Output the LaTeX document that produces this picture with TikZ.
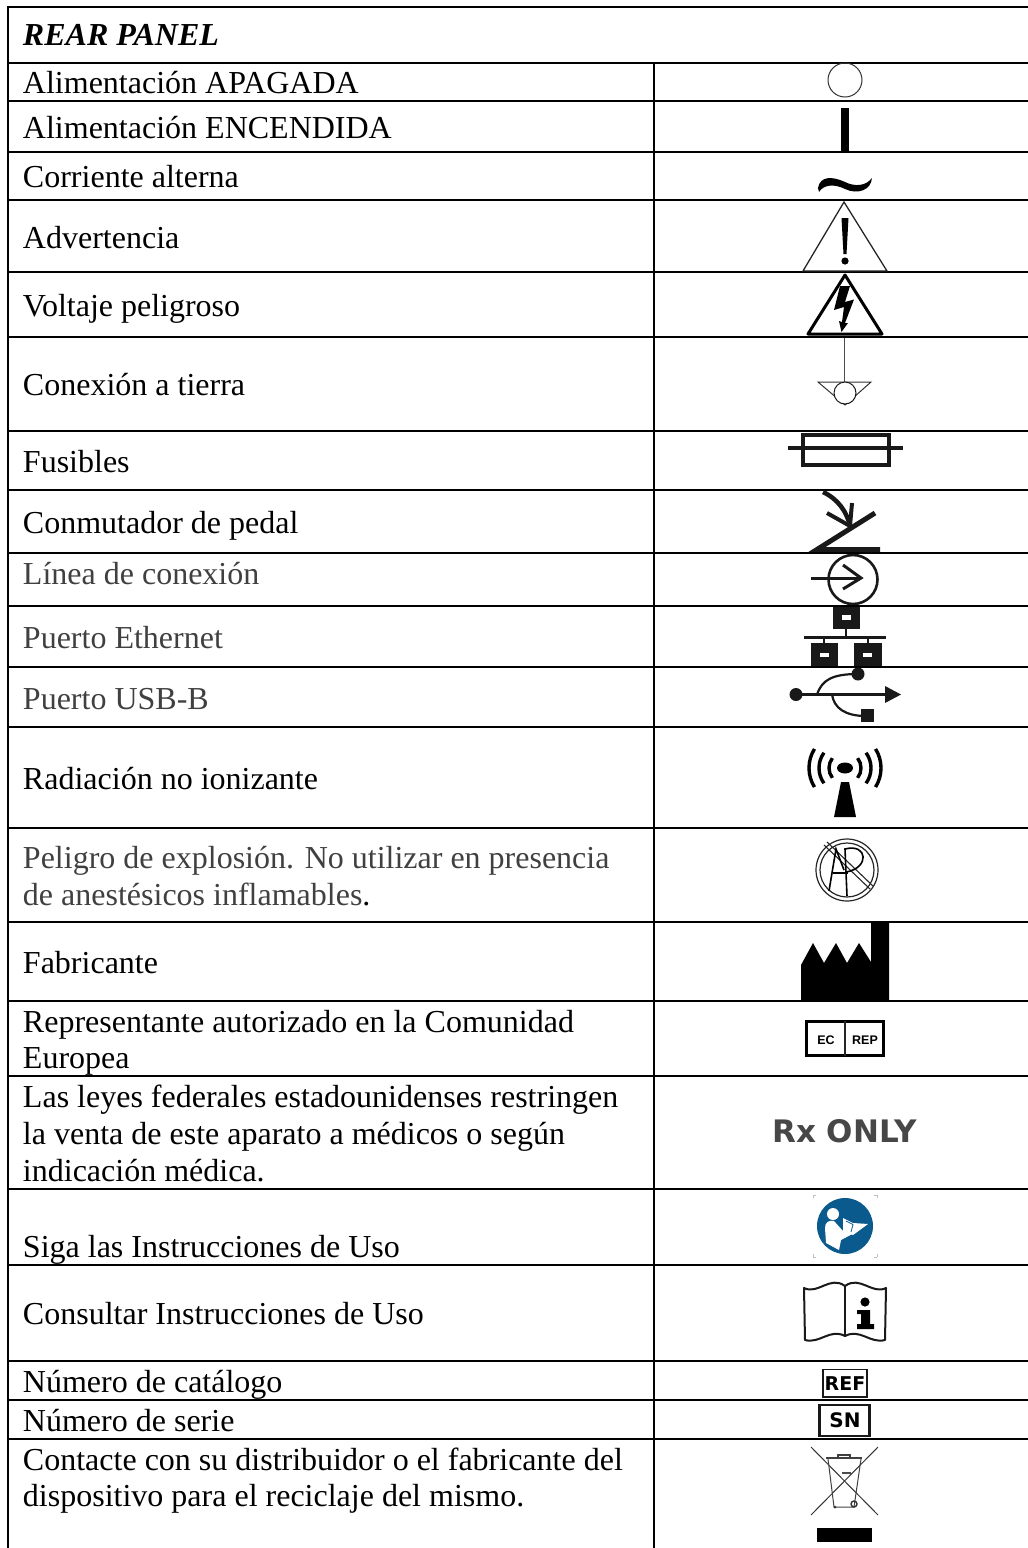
\documentclass[tikz,border=0pt]{standalone}
\usepackage{fontspec}
\setmainfont{Liberation Serif}
\newfontfamily\iconfont{DejaVu Sans}
\newfontfamily\labelfont{Liberation Sans}
\definecolor{graytext}{HTML}{404040}
\definecolor{signblue}{HTML}{0B5A8E}
\tikzset{
  rowline/.style={line width=1.8pt,black},
  cellt/.style={anchor=base west,inner sep=0pt,outer sep=0pt,font=\fontsize{32}{37}\selectfont},
  grayt/.style={cellt,text=graytext},
  thinl/.style={line width=1.3pt,black},
  solid/.style={fill=black,draw=none},
}
\begin{document}
\begin{tikzpicture}[x=1pt,y=-1pt,line join=miter]
\useasboundingbox (0,0) rectangle (1028,1548);
% table
\draw[rowline] (8,1548) -- (8,7) -- (1028,7);
\draw[rowline] (654,63) -- (654,1548);
\foreach \yy in {63,101,152,200,272,337,431,490,553,606,667,727,828,922,1001,1076,1189,1265,1361,1400,1439}
  \draw[rowline] (8,\yy) -- (1028,\yy);
% labels
\node[cellt] (t0) at (23,45) {\itshape\bfseries REAR PANEL};
\node[cellt] (t1) at (23,93) {Alimentación APAGADA};
\node[cellt] (t2) at (23,138) {Alimentación ENCENDIDA};
\node[cellt] (t3) at (23,187) {Corriente alterna};
\node[cellt] (t4) at (23,248) {Advertencia};
\node[cellt] (t5) at (23,316) {Voltaje peligroso};
\node[cellt] (t6) at (23,395) {Conexión a tierra};
\node[cellt] (t7) at (23,472) {Fusibles};
\node[cellt] (t8) at (23,533) {Conmutador de pedal};
\node[grayt] (t9) at (23,584) {Línea de conexión};
\node[grayt] (t10) at (23,648) {Puerto Ethernet};
\node[grayt] (t11) at (23,709) {Puerto USB-B};
\node[cellt] (t12) at (23,789) {Radiación no ionizante};
\node[grayt] (t13) at (23,868) {Peligro de explosión. No utilizar en presencia};
\node[grayt] (t14) at (23,905) {de anestésicos inflamables\textcolor{black}{.}};
\node[cellt] (t15) at (23,973) {Fabricante};
\node[cellt] (t16) at (23,1032) {Representante autorizado en la Comunidad};
\node[cellt] (t17) at (23,1068) {Europea};
\node[cellt] (t18) at (23,1107) {Las leyes federales estadounidenses restringen};
\node[cellt] (t19) at (23,1144) {la venta de este aparato a médicos o según};
\node[cellt] (t20) at (23,1181) {indicación médica.};
\node[cellt] (t21) at (23,1257) {Siga las Instrucciones de Uso};
\node[cellt] (t22) at (23,1324) {Consultar Instrucciones de Uso};
\node[cellt] (t23) at (23,1392) {Número de catálogo};
\node[cellt] (t24) at (23,1431) {Número de serie};
\node[cellt] (t25) at (23,1470) {Contacte con su distribuidor o el fabricante del};
\node[cellt] (t26) at (23,1506) {dispositivo para el reciclaje del mismo.};
% off
\draw[line width=1pt,black!80] (845,80) circle (17);
% on
\fill (841,108) rectangle (849,152);
% tilde
\fill (818,188) .. controls (820,176) and (832,176) .. (845,182) .. controls (855,187) and (866,186) .. (872,178)
  .. controls (871,190) and (858,195) .. (845,189) .. controls (835,184) and (824,184) .. (819,192) -- cycle;
% warning
\draw[thinl,black!85] (844,202) -- (887,271) -- (803,271) -- cycle;
\fill (841.5,218) -- (848.5,218) -- (846.5,254) -- (843.5,254) -- cycle;
\fill (845,261) circle (3.6);
% voltage
\draw[line width=3pt,line join=round] (845,275) -- (882,334) -- (808,334) -- cycle;
\fill (840,286) -- (850,286) -- (845,302) -- (854,299.5) -- (845,323) -- (848,323) -- (841.5,332) -- (839,321) -- (842,322) -- (844,307) -- (834,310) -- cycle;
% ground
\draw[line width=1pt,black!70] (844.5,338) -- (844.5,382);
\draw[line width=1pt,black!80] (818,382) -- (871,382) -- (845,405) -- cycle;
\draw[line width=1pt,black!90,fill=white] (845,393) circle (11);
% fuse
\draw[line width=4pt,black!90] (803,434.5) rectangle (889,465);
\draw[line width=4pt,black!90] (788,447.5) -- (903,447.5);
% pedal
\draw[line width=4.5pt,black!90] (823,492) .. controls (838,499) and (847,512) .. (850,526);
\draw[line width=4pt,black!90] (827,513) -- (850,526) -- (852,503);
\draw[line width=5pt,black!90] (875,513) -- (817,549.5) -- (880,549.5);
% connection
\draw[line width=2.6pt,black!90] (853,579.5) circle (24.5);
\draw[line width=3pt,black!90] (811,578) -- (861,578);
\draw[line width=3pt,black!90] (843,565) -- (861,578) -- (843,589);
% ethernet
\fill[black!90] (833,607) rectangle (860,629);
\fill[white] (842,615) rectangle (851,620);
\fill[black!90] (811,643) rectangle (838,666);
\fill[white] (820,653) rectangle (829,657);
\fill[black!90] (854,643) rectangle (882,666);
\fill[white] (863,653) rectangle (872,657);
\draw[line width=3pt,black!90] (804,637) -- (886,637);
\draw[line width=2pt,black!90] (846,629) -- (846,637);
\draw[line width=2pt,black!90] (824,637) -- (824,643);
\draw[line width=2pt,black!90] (868,637) -- (868,643);
% usb
\fill[black!90] (796,694.5) circle (6.5);
\draw[line width=2.4pt,black!90] (796,694.5) -- (888,694.5);
\fill[black!90] (885,686) -- (901,694.5) -- (885,703) -- cycle;
\draw[line width=2.2pt,black!90] (817,694.5) .. controls (822,680) and (832,674) .. (858,674);
\fill[black!90] (858,674) circle (6.5);
\draw[line width=2.2pt,black!90] (832,694.5) .. controls (834,708) and (845,716) .. (866,716);
\fill[black!90] (861,709) rectangle (873.5,722);
% radiation
\fill (845,768) ellipse (8 and 5.5);
\fill (841,782) -- (849,782) -- (856,817) -- (834,817) -- cycle;
\foreach \rr/\aa in {16/38,26/36,36/32}{
  \draw[line width=3.4pt] (845,768) ++(-\aa:\rr) arc[start angle=-\aa,end angle=\aa,radius=\rr];
  \draw[line width=3.4pt] (845,768) ++(180-\aa:\rr) arc[start angle=180-\aa,end angle=180+\aa,radius=\rr];
}
% AP
\draw[line width=1.2pt,black!85] (847,870) circle (31);
\draw[line width=1.2pt,black!85] (847,870) circle (27);
\draw[line width=1.1pt,black!85] (824,845) -- (870,889);
\draw[line width=1.1pt,black!85] (827,842) -- (873,886);
\draw[line width=1.6pt] (829,891) -- (836,849) -- (844,870);
\draw[line width=1.6pt] (833,873) -- (848,873);
\draw[line width=1.6pt] (847,896) -- (845,849) .. controls (868,843) and (870,868) .. (846,872);
% factory
\fill (801,1000) -- (801,965) -- (813,943) -- (824,963) -- (836,943) -- (847,963) -- (859,943) -- (871,962) -- (871,922) -- (889,922) -- (889,1000) -- cycle;
% EC REP
\draw[line width=3pt] (806.5,1021.5) rectangle (883.5,1055.5);
\draw[line width=2pt,black!85] (845,1021) -- (845,1056);
\node[inner sep=0pt,font=\labelfont\bfseries\fontsize{12.5}{14}\selectfont] (ec) at (826,1040) {EC};
\node[inner sep=0pt,font=\labelfont\bfseries\fontsize{12.5}{14}\selectfont] (rep) at (865,1040) {REP};
% Rx only
\node[inner sep=0pt,text=black!72,font=\iconfont\bfseries\fontsize{31}{34}\selectfont] (rx) at (844.5,1131.5) {Rx ONLY};
% follow IFU
\fill[signblue] (845,1226) circle (28);
\foreach \px/\py/\dx/\dy in {813/1195/3/0,813/1195/0/3,877/1195/-3/0,877/1195/0/3,813/1257/3/0,813/1257/0/-3,877/1257/-3/0,877/1257/0/-3}
  \draw[black!25,line width=.6pt] (\px,\py) -- ++(\dx,\dy);
\fill[white] (833,1214) circle (6);
\fill[white] (825,1228) .. controls (825,1222) and (829,1220) .. (834,1221) -- (843,1231) -- (855,1226) -- (858,1231) -- (841,1240) -- (839,1250) -- (826,1243) -- cycle;
\fill[white] (843,1218) -- (853,1223) -- (868,1224) -- (853,1235) -- (843,1231) -- cycle;
\draw[signblue,line width=.8pt] (846,1221) -- (853,1224.5) -- (851,1232);
% IFU book
\draw[line width=2pt,black!90,line join=round] (804,1288) .. controls (818,1295) and (830,1275) .. (845,1286) .. controls (860,1275) and (872,1295) .. (886,1288)
  -- (885,1340) .. controls (870,1344) and (860,1328) .. (845,1336) .. controls (830,1328) and (820,1344) .. (805,1340) -- cycle;
\draw[line width=2pt,black!90] (845,1286) -- (845,1336);
\fill (865,1302) circle (4.6);
\fill (857,1310) -- (870,1310) -- (870,1324) -- (874,1324) -- (874,1329) -- (857,1329) -- (857,1324) -- (861,1324) -- (861,1314) -- (857,1314) -- cycle;
% REF
\draw[line width=1.6pt,black!90] (823,1369.5) rectangle (867,1397);
\node[inner sep=0pt,font=\iconfont\bfseries\fontsize{19}{21}\selectfont] (refl) at (845,1383.5) {REF};
% SN
\draw[line width=2.2pt,black!90] (819.5,1405) rectangle (869.5,1436);
\node[inner sep=0pt,font=\iconfont\bfseries\fontsize{20}{22}\selectfont] (snl) at (845,1420.5) {SN};
% WEEE
\draw[line width=1pt,black!80] (811,1447) -- (878,1515);
\draw[line width=1pt,black!80] (878,1447) -- (811,1515);
\draw[line width=1pt,black!75] (828,1459) -- (834,1507) -- (854,1507) -- (861,1459);
\draw[line width=1.8pt,black!75] (826,1458) -- (862,1458);
\draw[line width=1.2pt,black!75] (838,1458) -- (838,1455) -- (850,1455) -- (850,1458);
\draw[line width=1.6pt,black!70] (842,1473) -- (851,1473);
\draw[line width=1.4pt,black!80] (854,1504) circle (3);
\fill[black!80] (835,1507) circle (1.5);
\fill (817,1528) rectangle (872,1542);
\end{tikzpicture}
\end{document}
